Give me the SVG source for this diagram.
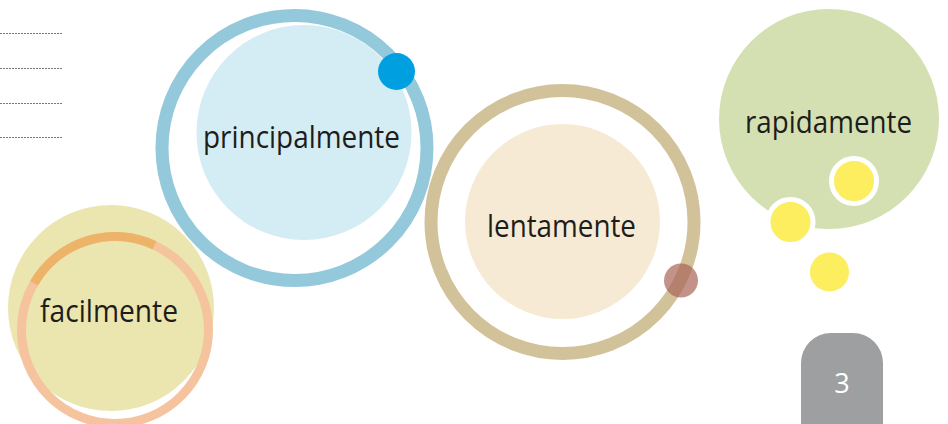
<svg xmlns="http://www.w3.org/2000/svg" width="948" height="424" viewBox="0 0 948 424">
  <style>
    .lbl { font-family: "Open Sans", "Noto Sans", "DejaVu Sans", sans-serif; font-size: 31px; fill: #1d1d1b; }
    .dots { stroke: #777777; stroke-width: 1; stroke-dasharray: 2 1; fill: none; }
    .yellow { fill: #fcee5e; }
  </style>
  <rect width="948" height="424" fill="#ffffff"/>
  <g id="lines">
    <line class="dots" x1="0" y1="33.5" x2="62" y2="33.5"/>
    <line class="dots" x1="0" y1="68.5" x2="62" y2="68.5"/>
    <line class="dots" x1="0" y1="103.5" x2="62" y2="103.5"/>
    <line class="dots" x1="0" y1="137.5" x2="62" y2="137.5"/>
  </g>
  <g id="node-facilmente">
    <circle cx="111" cy="308" r="103" fill="#ebe6af"/>
    <circle cx="115" cy="330" r="93.5" fill="none" stroke="#f5c39d" stroke-width="9"/>
    <path d="M34,283.3 A93.5,93.5 0 0 1 154.5,245.3" fill="none" stroke="#edb469" stroke-width="9"/>
    <text class="lbl" x="40" y="322" textLength="138" lengthAdjust="spacingAndGlyphs">facilmente</text>
  </g>
  <g id="node-principalmente">
    <circle cx="294.5" cy="148" r="132.5" fill="none" stroke="#94c9dc" stroke-width="13"/>
    <circle cx="304" cy="132.5" r="107.5" fill="#d4ecf4"/>
    <circle cx="396.5" cy="71.5" r="18.5" fill="#009fe0"/>
    <text class="lbl" x="203" y="148" textLength="197" lengthAdjust="spacingAndGlyphs">principalmente</text>
  </g>
  <g id="node-lentamente">
    <circle cx="562.5" cy="222" r="131.5" fill="none" stroke="#d1c29a" stroke-width="13"/>
    <circle cx="562.5" cy="221.5" r="97.5" fill="#f7ead4"/>
    <circle cx="681" cy="280.5" r="17" fill="#a96558" fill-opacity="0.7"/>
    <text class="lbl" x="487" y="237" textLength="149" lengthAdjust="spacingAndGlyphs">lentamente</text>
  </g>
  <g id="node-rapidamente">
    <circle cx="829" cy="119" r="110" fill="#d4e0b2"/>
    <circle class="yellow" cx="854" cy="181" r="22.5" stroke="#ffffff" stroke-width="5"/>
    <circle class="yellow" cx="790.5" cy="222" r="22.5" stroke="#ffffff" stroke-width="5"/>
    <circle class="yellow" cx="829.5" cy="272" r="19.5"/>
    <text class="lbl" x="745" y="133" textLength="167" lengthAdjust="spacingAndGlyphs">rapidamente</text>
  </g>
  <g id="page-tab">
    <path d="M801,424 V363 A30,30 0 0 1 831,333 H853 A30,30 0 0 1 883,363 V424 Z" fill="#9d9fa0"/>
    <text x="842" y="393" text-anchor="middle" font-family="Open Sans, Noto Sans, sans-serif" font-size="27" fill="#ffffff">3</text>
  </g>
</svg>
